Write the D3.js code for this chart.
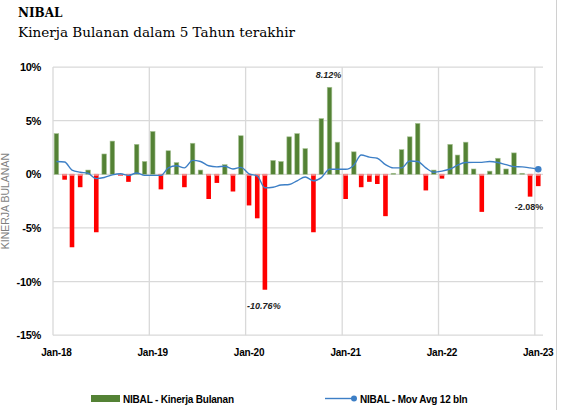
<!DOCTYPE html>
<html>
<head>
<meta charset="utf-8">
<script src="https://cdn.jsdelivr.net/npm/d3@7"></script>
<style>
  html, body { margin: 0; padding: 0; background: #fff; }
  svg { display: block; }
</style>
</head>
<body>
<svg id="chart" width="563" height="410"></svg>
<script>
// ---- data ----
const startMonth = "2018-01-01";
const monthlyReturn = [
  3.8, -0.5, -6.8, -1.2, 0.4, -5.4, 1.9, 3.1, -0.15, -0.7, 2.8, 1.2,
  4.0, -1.4, 2.2, 1.1, -1.2, 2.9, 0.4, -2.3, -0.8, 0.9, -1.6, 3.6,
  -2.9, -4.1, -10.76, 1.3, 1.2, 3.5, 3.8, 2.4, -5.4, 5.2, 8.12, 3.0,
  -2.3, 2.1, -1.2, -0.7, -0.9, -3.9, 0.1, 2.3, 3.5, 4.75, -1.5, 0.4,
  -0.4, 2.8, 1.8, 3.0, 0.5, -3.5, 0.3, 1.5, 0.5, 2.0, 0.1, -2.08,
  -1.1
];
const movAvg12 = [
  1.2, 1.15, 0.4, 0.2, 0.1, -0.4, -0.3, -0.05, 0.05, -0.1, 0.12, -0.1,
  -0.1, -0.1, 0.6, 0.8, 0.6, 1.3, 1.2, 0.8, 0.7, 0.75, 0.5, 0.65,
  0.05, -0.15, -1.25, -1.2, -1.0, -0.95, -0.6, -0.25, -0.6, -0.3, 0.47, 0.47,
  0.47, 0.85, 1.8, 1.6, 1.5, 0.9, 0.6, 0.6, 1.25, 1.2, 0.6, 0.2,
  0.3, 0.5, 0.85, 1.1, 1.12, 1.12, 1.2, 1.1, 0.9, 0.72, 0.7, 0.6,
  0.47
];
const yTicks = [10, 5, 0, -5, -10, -15];
const xTickLabels = ["Jan-18", "Jan-19", "Jan-20", "Jan-21", "Jan-22", "Jan-23"];
const labelledValues = [
  { month: 34, text: "8.12%", style: "italic" },
  { month: 26, text: "-10.76%", style: "italic" },
  { month: 59, text: "-2.08%", style: "normal" }
];
const title = "NIBAL";
const subtitle = "Kinerja Bulanan dalam 5 Tahun terakhir";
const yTitle = "KINERJA BULANAN";
const seriesNames = ["NIBAL - Kinerja Bulanan", "NIBAL - Mov Avg 12 bln"];

// ---- setup ----
const svg = d3.select("#chart");
const parse = d3.timeParse("%Y-%m-%d");
const start = parse(startMonth);
const months = d3.range(monthlyReturn.length).map(i => d3.timeMonth.offset(start, i));
const endDomain = d3.timeMonth.offset(start, monthlyReturn.length);

const x = d3.scaleTime().domain([start, endDomain]).range([53, 543]);
const y = d3.scaleLinear().domain([-15, 10]).range([335.2, 67.1]);
const xc = d => x(d3.timeDay.offset(d, 13));

const gridColor = "#d9d9d9";
const green = "#548235";
const red = "#ff0000";
const blue = "#3d7fc6";

// right frame line
svg.append("line").attr("x1", 556.5).attr("x2", 556.5).attr("y1", 0).attr("y2", 410)
  .attr("stroke", "#d0d0d0").attr("stroke-width", 1);

// titles
svg.append("text").attr("x", 18).attr("y", 17)
  .attr("font-family", "'DejaVu Serif', serif").attr("font-weight", "bold")
  .attr("font-size", 12).attr("fill", "#000").text(title);
svg.append("text").attr("x", 18).attr("y", 37)
  .attr("font-family", "'DejaVu Serif', serif")
  .attr("font-size", 13.5).attr("fill", "#000")
  .attr("textLength", 277).attr("lengthAdjust", "spacingAndGlyphs")
  .text(subtitle);

// grid
const yearDates = xTickLabels.map((_, i) => d3.timeYear.offset(start, i));
svg.append("g").selectAll("line.h").data(yTicks).join("line")
  .attr("x1", 53).attr("x2", 543)
  .attr("y1", d => y(d)).attr("y2", d => y(d))
  .attr("stroke", gridColor).attr("stroke-width", 1.3);
svg.append("g").selectAll("line.v").data(yearDates).join("line")
  .attr("x1", d => x(d)).attr("x2", d => x(d))
  .attr("y1", y(10)).attr("y2", y(-15))
  .attr("stroke", gridColor).attr("stroke-width", 1.3);

// y tick labels
svg.append("g").selectAll("text").data(yTicks).join("text")
  .attr("x", 41).attr("y", d => y(d) + 4)
  .attr("text-anchor", "end")
  .attr("font-family", "'Liberation Sans', Arial, sans-serif")
  .attr("font-weight", "bold").attr("font-size", 11).attr("fill", "#000")
  .attr("letter-spacing", -0.3)
  .text(d => d + "%");

// x tick labels
svg.append("g").selectAll("text").data(yearDates).join("text")
  .attr("x", d => xc(d)).attr("y", 356)
  .attr("text-anchor", "middle")
  .attr("font-family", "'Liberation Sans', Arial, sans-serif")
  .attr("font-weight", "bold").attr("font-size", 10).attr("fill", "#000")
  .attr("letter-spacing", -0.2)
  .text((d, i) => xTickLabels[i]);

// y title
svg.append("text")
  .attr("transform", `translate(9,${(y(10) + y(-15)) / 2 + 0}) rotate(-90)`)
  .attr("text-anchor", "middle")
  .attr("font-family", "'Liberation Sans', Arial, sans-serif")
  .attr("font-size", 10.5).attr("fill", "#7f7f7f")
  .text(yTitle);

// bars
const bw = 4.6;
const bars = months.map((d, i) => ({ d, v: monthlyReturn[i] }));
svg.append("g").selectAll("rect").data(bars).join("rect")
  .attr("x", b => xc(b.d) - bw / 2)
  .attr("width", bw)
  .attr("y", b => y(Math.max(0, b.v)))
  .attr("height", b => Math.abs(y(b.v) - y(0)))
  .attr("fill", b => b.v >= 0 ? green : red)
  .attr("stroke", b => b.v >= 0 ? "#a8c496" : "none")
  .attr("stroke-width", 0.6);
// pale caps at zero on negative bars
svg.append("g").selectAll("rect").data(bars.filter(b => b.v < 0)).join("rect")
  .attr("x", b => xc(b.d) - bw / 2)
  .attr("width", bw)
  .attr("y", y(0) - 0.5)
  .attr("height", 2)
  .attr("fill", "#f28c8c");

// moving average line
const maPts = months.map((d, i) => [xc(d), y(movAvg12[i])]);
svg.append("path")
  .attr("d", d3.line().curve(d3.curveMonotoneX)(maPts))
  .attr("fill", "none").attr("stroke", blue).attr("stroke-width", 1.4);
const last = maPts[maPts.length - 1];
svg.append("circle").attr("cx", last[0]).attr("cy", last[1]).attr("r", 3.3).attr("fill", blue);

// data labels
labelledValues.forEach(l => {
  const v = monthlyReturn[l.month];
  const cx = xc(months[l.month]);
  let ty;
  if (l.month === 34) ty = y(v) - 9;
  else if (l.month === 26) ty = y(v) + 19;
  else ty = y(v) + 13;
  svg.append("text").attr("x", cx - 1).attr("y", ty)
    .attr("text-anchor", "middle")
    .attr("font-family", "'Liberation Sans', Arial, sans-serif")
    .attr("font-weight", "bold").attr("font-style", l.style)
    .attr("font-size", 9).attr("fill", "#222")
    .text(l.text);
});

// legend
const lg = svg.append("g");
lg.append("rect").attr("x", 91).attr("y", 395).attr("width", 29).attr("height", 7).attr("fill", green);
lg.append("text").attr("x", 123).attr("y", 402.5)
  .attr("font-family", "'Liberation Sans', Arial, sans-serif")
  .attr("font-weight", "bold").attr("font-size", 10).attr("fill", "#000")
  .attr("letter-spacing", -0.2)
  .text(seriesNames[0]);
lg.append("line").attr("x1", 325).attr("x2", 354).attr("y1", 398.5).attr("y2", 398.5)
  .attr("stroke", blue).attr("stroke-width", 1.4);
lg.append("circle").attr("cx", 354).attr("cy", 398.5).attr("r", 3).attr("fill", blue);
lg.append("text").attr("x", 360).attr("y", 402.5)
  .attr("font-family", "'Liberation Sans', Arial, sans-serif")
  .attr("font-weight", "bold").attr("font-size", 10).attr("fill", "#000")
  .attr("letter-spacing", -0.2)
  .text(seriesNames[1]);
</script>
</body>
</html>
